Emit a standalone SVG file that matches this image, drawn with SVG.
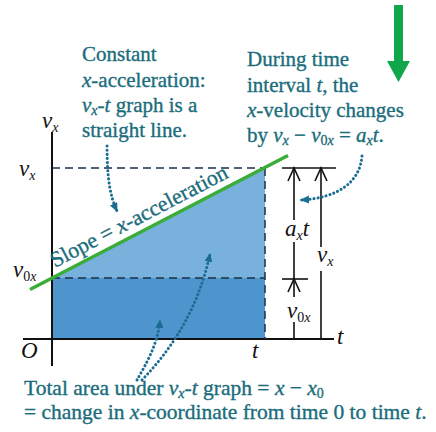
<svg xmlns="http://www.w3.org/2000/svg" width="436" height="432" viewBox="0 0 436 432">
<style>
.t{font-family:"Liberation Serif","Times New Roman",serif;font-size:21px;fill:#1b6d7c;stroke:#1b6d7c;stroke-width:0.35}
.b{font-size:21.5px}
.m{font-family:"Liberation Serif","Times New Roman",serif;font-size:23px;fill:#111}
.i{font-style:italic}
.s{font-size:14px}
.dash{stroke:#1c2f4a;stroke-width:1.5;stroke-dasharray:8 5;fill:none}
.dot{stroke:#1a6d92;stroke-width:3;stroke-dasharray:0.1 4;stroke-linecap:round;fill:none}
.ax{stroke:#111;stroke-width:2;fill:none}
.br{stroke:#111;stroke-width:1.6;fill:none}
</style>
<defs>
<marker id="ah" markerUnits="userSpaceOnUse" markerWidth="10" markerHeight="10" refX="8" refY="4" orient="auto">
<path d="M0,0 L9,4 L0,8 z" fill="#1a6d92"/>
</marker>
</defs>
<rect width="436" height="432" fill="#fff"/>

<g id="area">
<rect x="52" y="278" width="213" height="61" fill="#4f95cd"/>
<polygon points="52,278 265,167 265,278" fill="#78b1dc"/>
</g>

<g id="axes">
<line class="ax" x1="52" y1="132" x2="52" y2="366"/>
<line class="ax" x1="23" y1="339" x2="334" y2="339"/>
<line class="dash" x1="52" y1="168" x2="265" y2="168"/>
<line class="dash" x1="52" y1="278" x2="265" y2="278"/>
<line class="dash" x1="265" y1="168" x2="265" y2="339"/>
</g>

<g id="slope-line">
<line x1="30" y1="289.5" x2="288" y2="155.5" stroke="#3aac38" stroke-width="3.5"/>
<text class="t" style="font-size:22px" transform="translate(55,268) rotate(-27.5)">Slope = <tspan class="i">x</tspan>-acceleration</text>
</g>

<g id="brackets">
<line class="br" x1="282" y1="168" x2="336" y2="168"/>
<line class="br" x1="282" y1="279" x2="308" y2="279"/>
<line class="br" x1="294" y1="168" x2="294" y2="220"/>
<line class="br" x1="294" y1="242" x2="294" y2="279"/>
<line class="br" x1="294" y1="280" x2="294" y2="297"/>
<line class="br" x1="294" y1="322" x2="294" y2="339"/>
<line class="br" x1="321" y1="168" x2="321" y2="247"/>
<line class="br" x1="321" y1="271" x2="321" y2="339"/>
<polyline class="br" points="288,181 294,168 300,181"/>
<polyline class="br" points="315,181 321,168 327,181"/>
<polyline class="br" points="288,292 294,279 300,292"/>
<text class="m" x="285" y="236"><tspan class="i">a</tspan><tspan class="i s" dy="4">x</tspan><tspan class="i" dy="-4">t</tspan></text>
<text class="m" x="317" y="262"><tspan class="i">v</tspan><tspan class="i s" dy="4">x</tspan></text>
<text class="m" x="287" y="318"><tspan class="i">v</tspan><tspan class="s" dy="4">0<tspan class="i">x</tspan></tspan></text>
</g>

<g id="axis-labels">
<text class="m" x="42" y="128"><tspan class="i">v</tspan><tspan class="i s" dy="4">x</tspan></text>
<text class="m" x="19" y="176"><tspan class="i">v</tspan><tspan class="i s" dy="4">x</tspan></text>
<text class="m" x="13" y="277"><tspan class="i">v</tspan><tspan class="s" dy="4">0<tspan class="i">x</tspan></tspan></text>
<text class="m i" x="337" y="344">t</text>
<text class="m i" x="21" y="358">O</text>
<text class="m i" x="252" y="358">t</text>
</g>

<g id="note-constant">
<text class="t" x="82" y="61">Constant</text>
<text class="t" x="82" y="87"><tspan class="i">x</tspan>-acceleration:</text>
<text class="t" x="82" y="112"><tspan class="i">v</tspan><tspan class="i s" dy="3">x</tspan><tspan dy="-3">-</tspan><tspan class="i">t</tspan> graph is a</text>
<text class="t" x="82" y="137">straight line.</text>
</g>

<g id="note-interval">
<text class="t" x="247" y="66">During time</text>
<text class="t" x="247" y="92">interval <tspan class="i">t</tspan>, the</text>
<text class="t" x="247" y="117"><tspan class="i">x</tspan>-velocity changes</text>
<text class="t" x="247" y="142">by <tspan class="i">v</tspan><tspan class="i s" dy="3">x</tspan><tspan dy="-3"> − </tspan><tspan class="i">v</tspan><tspan class="s" dy="3">0<tspan class="i">x</tspan></tspan><tspan dy="-3"> = </tspan><tspan class="i">a</tspan><tspan class="i s" dy="3">x</tspan><tspan class="i" dy="-3">t</tspan>.</text>
</g>

<g id="note-area">
<text class="t b" x="24" y="395">Total area under <tspan class="i">v</tspan><tspan class="i s" dy="3">x</tspan><tspan dy="-3">-</tspan><tspan class="i">t</tspan> graph = <tspan class="i">x</tspan> − <tspan class="i">x</tspan><tspan class="s" dy="3">0</tspan></text>
<text class="t b" x="24" y="419">= change in <tspan class="i">x</tspan>-coordinate from time 0 to time <tspan class="i">t</tspan>.</text>
</g>

<g id="connectors">
<path class="dot" d="M107,146 C107,178 110,196 117,211" marker-end="url(#ah)"/>
<path class="dot" d="M362,156 C360,182 338,198 301,200" marker-end="url(#ah)"/>
<path class="dot" d="M142,380 Q195,325 210,254" marker-end="url(#ah)"/>
<path class="dot" d="M137,380 C146,364 158,344 160,320" marker-end="url(#ah)"/>
</g>

<g id="green-arrow">
<rect x="394" y="5" width="9" height="57" fill="#10a64a"/>
<polygon points="387,61 410,61 398.5,82" fill="#10a64a"/>
</g>
</svg>
